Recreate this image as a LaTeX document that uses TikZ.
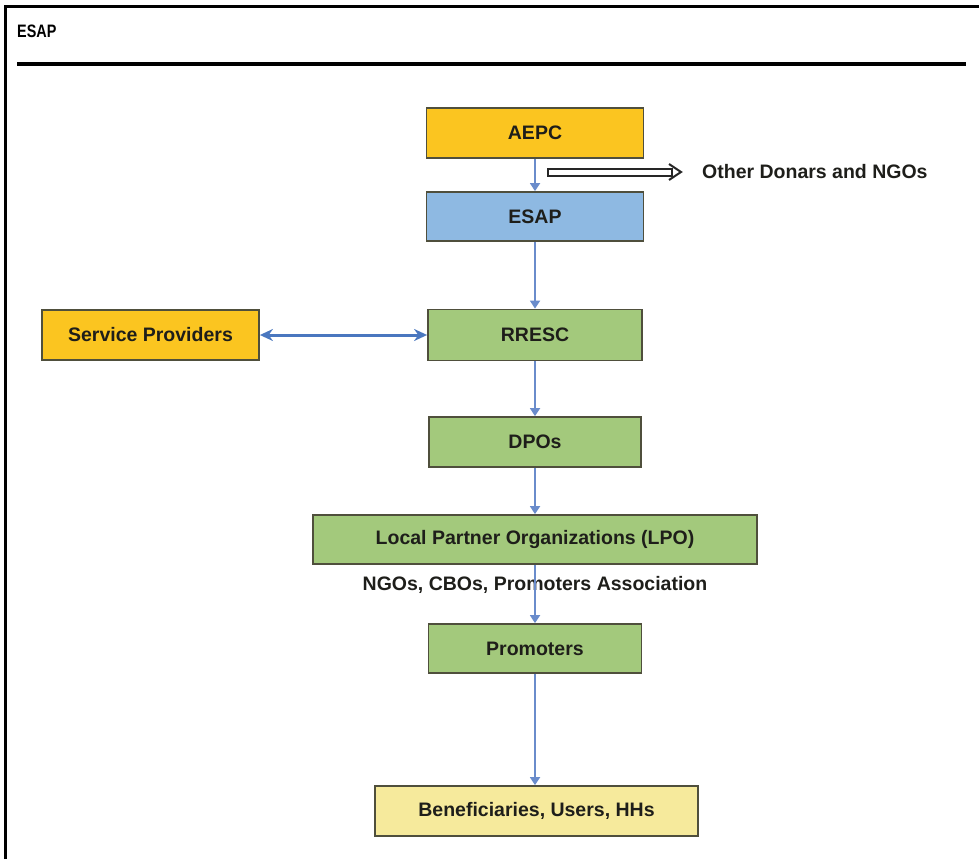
\documentclass[tikz,border=0pt]{standalone}
\usepackage{fontspec}
\setmainfont{Liberation Sans}
\usetikzlibrary{arrows.meta,calc}
\definecolor{gold}{HTML}{FBC520}
\definecolor{skyblue}{HTML}{8EB9E2}
\definecolor{leaf}{HTML}{A3C97C}
\definecolor{cream}{HTML}{F6EA9C}
\definecolor{boxedge}{HTML}{4F4F3C}
\definecolor{txt}{HTML}{1E1E1A}
\definecolor{flowblue}{HTML}{6A8CCB}
\definecolor{linkblue}{HTML}{4A77BF}
\begin{document}
\begin{tikzpicture}[x=1pt,y=-1pt,
  boxfont/.style={font=\fontsize{19.5}{22}\selectfont\bfseries, text=txt},
  box/.style={boxfont, draw=boxedge, line width=1.8pt, minimum height=50pt, inner sep=0pt},
  flow/.style={draw=flowblue, line width=1.8pt, -{Triangle[width=10pt,length=8pt]}},
  link/.style={draw=linkblue, line width=3pt, {Stealth[length=13pt,width=12pt]}-{Stealth[length=13pt,width=12pt]}},
  hollow/.style={draw=black!85, line width=2pt, double=white, double distance=5pt, line cap=rect},
  chevron/.style={draw=black!85, line width=2pt, line join=miter}
]
\useasboundingbox (0,0) rectangle (979,859);

% outer frame (open to the right and bottom) and heading
\draw[line width=2.6pt] (5.5,859) -- (5.5,6.5) -- (979,6.5);
\node[anchor=base west, inner sep=0pt, font=\fontsize{18}{21}\selectfont\bfseries] (title) at (17,37.5) {\scalebox{0.8}[1]{ESAP}};
\draw[line width=3pt] (17,64) -- (966,64);

% boxes
\node[box, fill=gold, minimum width=217pt] (aepc) at (535,133) {AEPC};
\node[box, fill=skyblue, minimum width=217pt, minimum height=49pt] (esap) at (535,216.5) {ESAP};
\node[box, fill=leaf, minimum width=214pt, minimum height=51pt] (rresc) at (535,335) {RRESC};
\node[box, fill=gold, minimum width=217pt] (sp) at (150.5,335) {Service Providers};
\node[box, fill=leaf, minimum width=212pt] (dpo) at (535,442) {DPOs};
\node[box, fill=leaf, minimum width=444pt, minimum height=49pt] (lpo) at (535,539.5) {Local Partner Organizations (LPO)};
\node[boxfont, inner sep=0pt] (lpolabel) at (535,585) {NGOs, CBOs, Promoters Association};
\node[box, fill=leaf, minimum width=213pt, minimum height=49pt] (prom) at (535,648.5) {Promoters};
\node[box, fill=cream, minimum width=323pt] (ben) at (536.5,811) {Beneficiaries, Users, HHs};

% side branch to other donors: hollow shaft with an open chevron head
\node[boxfont, anchor=west, inner sep=0pt] (donors) at (702,172) {Other Donars and NGOs};
\coordinate (dstart) at (551,172);
\coordinate (dtip) at ($(donors.west)+(-21,0)$);
\draw[hollow] (dstart) -- ($(dtip)+(-13,0)$);
\draw[chevron] ($(dtip)+(-12,-8)$) -- (dtip) -- ($(dtip)+(-12,8)$);

% flow connectors
\draw[flow] (aepc.south) -- (esap.north);
\draw[flow] (esap.south) -- (rresc.north);
\draw[flow] (rresc.south) -- (dpo.north);
\draw[flow] (dpo.south) -- (lpo.north);
\draw[flow] (lpo.south) -- (prom.north);
\draw[flow] (prom.south) -- (prom.south |- ben.north);
\draw[link] (sp.east) -- (rresc.west);
\end{tikzpicture}
\end{document}
